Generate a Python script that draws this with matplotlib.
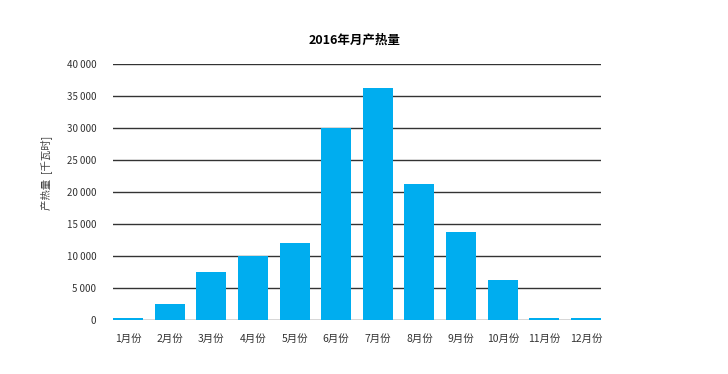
import matplotlib
matplotlib.use("Agg")
import matplotlib.pyplot as plt
import numpy as np

plt.rcParams['font.family'] = ['Noto Sans CJK SC', 'DejaVu Sans']

months = ["1月份", "2月份", "3月份", "4月份", "5月份", "6月份",
          "7月份", "8月份", "9月份", "10月份", "11月份", "12月份"]
heat = [250, 2500, 7500, 10000, 12000, 30000, 36250, 21250, 13700, 6300, 250, 250]
yticks = [0, 5000, 10000, 15000, 20000, 25000, 30000, 35000, 40000]
ytick_labels = ["0", "5 000", "10 000", "15 000", "20 000", "25 000",
                "30 000", "35 000", "40 000"]

fig = plt.figure(figsize=(7.28, 3.74), dpi=100)
ax = fig.add_axes([113/728, 1-320/374, (601-113)/728, (320-64)/374])

x = np.arange(len(months))
ax.set_axisbelow(True)
for t in yticks:
    ax.axhline(t, color="#333333", lw=1.0, zorder=1)
ax.bar(x, heat, width=0.72, color="#00adef", zorder=2)

ax.set_xlim(-0.36, len(months) - 1 + 0.36)
ax.set_ylim(0, 40000)
ax.set_yticks(yticks)
ax.set_yticklabels(ytick_labels, fontsize=7, color="#333333")
ax.set_xticks(x)
ax.set_xticklabels(months, fontsize=7.5, color="#333333")
ax.tick_params(axis="both", length=0)
ax.tick_params(axis="y", pad=12)
ax.tick_params(axis="x", pad=10)
for s in ax.spines.values():
    s.set_visible(False)

fig.text(355/728, 1-40/374, "2016年月产热量", ha="center", va="center",
         fontsize=9, fontweight="bold", color="black")
fig.text(46/728, 1-173/374, "产热量  [千瓦时]", ha="center", va="center",
         rotation=90, fontsize=7.5, color="#404040")

fig.savefig("out.png", dpi=100)
